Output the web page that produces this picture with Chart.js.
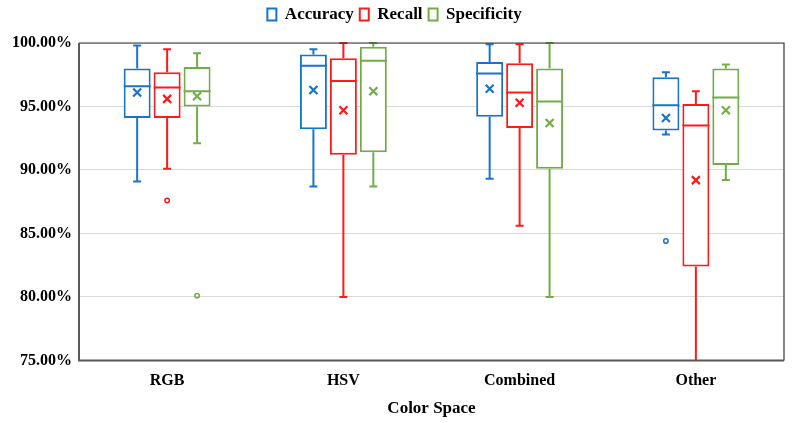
<!DOCTYPE html>
<html>
<head>
<meta charset="utf-8">
<script src="https://cdn.jsdelivr.net/npm/chart.js@4"></script>
<style>
  html, body { margin: 0; padding: 0; background: #fff; }
  #wrap { width: 792px; height: 423px; }
</style>
</head>
<body>
<div id="wrap"><canvas id="boxChart"></canvas></div>
<script>
const categories = ['RGB', 'HSV', 'Combined', 'Other'];

// Accuracy
const accuracyMin = [89.1, 88.7, 89.3, 92.8];
const accuracyQ1 = [94.1, 93.2, 94.2, 93.1];
const accuracyMedian = [96.6, 98.2, 97.6, 95.1];
const accuracyQ3 = [98.0, 99.1, 98.5, 97.3];
const accuracyMax = [99.8, 99.5, 99.9, 97.7];
const accuracyMean = [96.1, 96.3, 96.4, 94.1];
const accuracyOutliers = [[], [], [], [84.4]];

// Recall
const recallMin = [90.1, 80.0, 85.6, 72.0];
const recallQ1 = [94.1, 91.2, 93.3, 82.4];
const recallMedian = [96.5, 97.0, 96.1, 93.5];
const recallQ3 = [97.7, 98.8, 98.4, 95.2];
const recallMax = [99.5, 100, 99.9, 96.2];
const recallMean = [95.6, 94.7, 95.3, 89.2];
const recallOutliers = [[87.6], [], [], []];

// Specificity
const specificityMin = [92.1, 88.7, 80.0, 89.2];
const specificityQ1 = [95.0, 91.4, 90.1, 90.4];
const specificityMedian = [96.2, 98.6, 95.4, 95.7];
const specificityQ3 = [98.1, 99.7, 98.0, 98.0];
const specificityMax = [99.2, 100, 100, 98.3];
const specificityMean = [95.8, 96.2, 93.7, 94.7];
const specificityOutliers = [[80.1], [], [], []];

const yTicks = [75, 80, 85, 90, 95, 100];

const stats = [
    { min: accuracyMin, q1: accuracyQ1, med: accuracyMedian, q3: accuracyQ3, max: accuracyMax, mean: accuracyMean, out: accuracyOutliers },
    { min: recallMin, q1: recallQ1, med: recallMedian, q3: recallQ3, max: recallMax, mean: recallMean, out: recallOutliers },
    { min: specificityMin, q1: specificityQ1, med: specificityMedian, q3: specificityQ3, max: specificityMax, mean: specificityMean, out: specificityOutliers }
];

const font = 'Liberation Serif, Times New Roman, serif';

function boxDataset(label, color, s) {
    return {
        label: label,
        data: categories.map((c, j) => [s.q1[j], s.q3[j]]),
        backgroundColor: '#ffffff',
        borderColor: color,
        borderWidth: 2,
        borderSkipped: false,
        barPercentage: 0.9,
        categoryPercentage: 0.51
    };
}

// extra room under the legend
const legendGap = {
    id: 'legendGap',
    beforeInit(chart) {
        const fit = chart.legend.fit;
        chart.legend.fit = function () {
            fit.bind(chart.legend)();
            this.height += 10;
        };
    }
};

// whiskers, medians, means and outliers on top of the IQR bars
const boxExtras = {
    id: 'boxExtras',
    afterDatasetsDraw(chart) {
        const ctx = chart.ctx;
        const y = chart.scales.y;
        const area = chart.chartArea;
        ctx.save();
        ctx.beginPath();
        ctx.rect(area.left, area.top - 2, area.right - area.left, area.bottom - area.top + 2);
        ctx.clip();
        chart.data.datasets.forEach((ds, i) => {
            const s = stats[i];
            const meta = chart.getDatasetMeta(i);
            ctx.strokeStyle = ds.borderColor;
            meta.data.forEach((bar, j) => {
                const x = bar.x;
                const half = bar.width / 2;
                const cap = 4;
                ctx.lineWidth = 2;
                ctx.beginPath();
                ctx.moveTo(x, y.getPixelForValue(s.q3[j]));
                ctx.lineTo(x, y.getPixelForValue(s.max[j]));
                ctx.moveTo(x - cap, y.getPixelForValue(s.max[j]));
                ctx.lineTo(x + cap, y.getPixelForValue(s.max[j]));
                ctx.moveTo(x, y.getPixelForValue(s.q1[j]));
                ctx.lineTo(x, y.getPixelForValue(s.min[j]));
                ctx.moveTo(x - cap, y.getPixelForValue(s.min[j]));
                ctx.lineTo(x + cap, y.getPixelForValue(s.min[j]));
                // median
                ctx.moveTo(x - half, y.getPixelForValue(s.med[j]));
                ctx.lineTo(x + half, y.getPixelForValue(s.med[j]));
                ctx.stroke();
                // mean marker
                const my = y.getPixelForValue(s.mean[j]);
                ctx.lineWidth = 2.2;
                ctx.beginPath();
                ctx.moveTo(x - 4, my - 4);
                ctx.lineTo(x + 4, my + 4);
                ctx.moveTo(x + 4, my - 4);
                ctx.lineTo(x - 4, my + 4);
                ctx.stroke();
                // outliers
                ctx.lineWidth = 1.5;
                s.out[j].forEach(v => {
                    ctx.beginPath();
                    ctx.arc(x, y.getPixelForValue(v), 2.2, 0, Math.PI * 2);
                    ctx.stroke();
                });
            });
        });
        ctx.restore();

        // plot frame
        ctx.save();
        ctx.strokeStyle = '#333333';
        ctx.lineWidth = 1.2;
        ctx.beginPath();
        ctx.moveTo(area.left, area.top);
        ctx.lineTo(area.right, area.top);
        ctx.lineTo(area.right, area.bottom);
        ctx.stroke();
        ctx.strokeStyle = '#595959';
        ctx.lineWidth = 2;
        ctx.beginPath();
        ctx.moveTo(area.left, area.top);
        ctx.lineTo(area.left, area.bottom);
        ctx.lineTo(area.right, area.bottom);
        ctx.stroke();
        ctx.restore();
    }
};

new Chart(document.getElementById('boxChart'), {
    type: 'bar',
    data: {
        labels: categories,
        datasets: [
            boxDataset('Accuracy', '#1874c8', stats[0]),
            boxDataset('Recall', '#ff1a1a', stats[1]),
            boxDataset('Specificity', '#70ad47', stats[2])
        ]
    },
    options: {
        responsive: true,
        maintainAspectRatio: false,
        animation: false,
        layout: { padding: { left: 5, right: 8, top: 0, bottom: 4 } },
        plugins: {
            legend: {
                position: 'top',
                labels: {
                    color: '#000',
                    font: { family: font, size: 17, weight: 'bold' },
                    boxWidth: 9,
                    boxHeight: 12,
                    padding: 6
                }
            },
            tooltip: { enabled: false }
        },
        scales: {
            x: {
                grid: { display: false },
                border: { display: false },
                ticks: {
                    color: '#000',
                    font: { family: font, size: 16, weight: 'bold' },
                    padding: 3
                },
                title: {
                    display: true,
                    text: 'Color Space',
                    color: '#000',
                    font: { family: font, size: 17, weight: 'bold' },
                    padding: { top: 5, bottom: 0 }
                }
            },
            y: {
                min: 75,
                max: 100,
                afterBuildTicks: axis => { axis.ticks = yTicks.map(v => ({ value: v })); },
                grid: { color: '#d9d9d9', lineWidth: 1, drawTicks: false },
                border: { display: false },
                ticks: {
                    color: '#000',
                    font: { family: font, size: 16, weight: 'bold' },
                    padding: 7,
                    callback: v => v.toFixed(2) + '%'
                }
            }
        }
    },
    plugins: [legendGap, boxExtras]
});
</script>
</body>
</html>
